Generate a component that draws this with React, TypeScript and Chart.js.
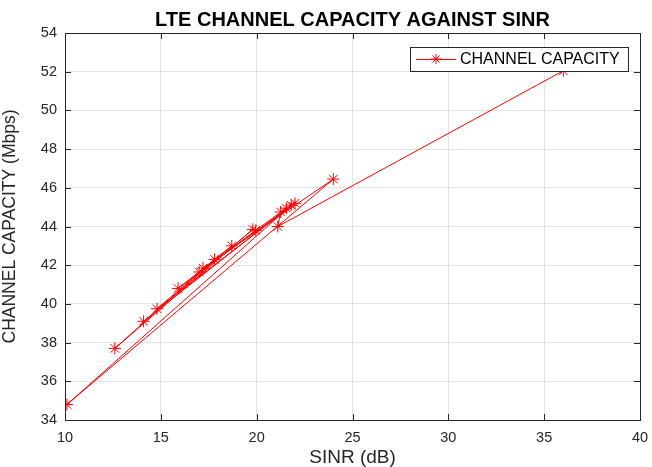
import React, { useEffect, useRef } from "react";
import { Chart, registerables } from "chart.js";

Chart.register(...registerables);

const titleText = "LTE CHANNEL CAPACITY AGAINST SINR";
const xTitle = "SINR (dB)";
const yTitle = "CHANNEL CAPACITY (Mbps)";
const seriesName = "CHANNEL CAPACITY";

// data in plotting order (SINR dB, capacity Mbps)
const sinr = [17.2, 24.0, 10.1, 21.8, 14.1, 19.8, 12.6, 17.8, 14.8, 22.0, 17.0, 18.7, 15.9, 19.95, 21.55, 21.25, 21.1, 36.0];
const capacity = [41.85, 46.45, 34.8, 45.1, 39.1, 43.85, 37.7, 42.3, 39.75, 45.2, 41.65, 43.0, 40.8, 43.8, 44.95, 44.75, 44.0, 52.05];

const xMin = 10, xMax = 40, xStep = 5;
const yMin = 34, yMax = 54, yStep = 2;

const FONT = "'Liberation Sans', Arial, Helvetica, sans-serif";
const TEXT = "#262626";

function drawStar(ctx: CanvasRenderingContext2D, x: number, y: number, r: number) {
  ctx.beginPath();
  ctx.moveTo(x - r, y); ctx.lineTo(x + r, y);
  ctx.moveTo(x, y - r); ctx.lineTo(x, y + r);
  const d = r * 0.7071;
  ctx.moveTo(x - d, y - d); ctx.lineTo(x + d, y + d);
  ctx.moveTo(x - d, y + d); ctx.lineTo(x + d, y - d);
  ctx.stroke();
}

const framePlugin = {
  id: "frame",
  afterDraw(chart: any) {
    const { ctx, chartArea: a, scales } = chart;
    ctx.save();
    ctx.strokeStyle = TEXT;
    ctx.lineWidth = 1;
    ctx.strokeRect(Math.round(a.left) + 0.5, Math.round(a.top) + 0.5, Math.round(a.right - a.left), Math.round(a.bottom - a.top));
    const tl = 6;
    ctx.beginPath();
    for (let v = xMin; v <= xMax; v += xStep) {
      const px = Math.round(scales.x.getPixelForValue(v)) + 0.5;
      ctx.moveTo(px, a.bottom); ctx.lineTo(px, a.bottom - tl);
      ctx.moveTo(px, a.top); ctx.lineTo(px, a.top + tl);
    }
    for (let v = yMin; v <= yMax; v += yStep) {
      const py = Math.round(scales.y.getPixelForValue(v)) + 0.5;
      ctx.moveTo(a.left, py); ctx.lineTo(a.left + tl, py);
      ctx.moveTo(a.right, py); ctx.lineTo(a.right - tl, py);
    }
    ctx.stroke();

    // title
    ctx.fillStyle = "#000";
    ctx.font = `bold 20px ${FONT}`;
    ctx.textAlign = "center";
    ctx.textBaseline = "middle";
    ctx.fillText(titleText, (a.left + a.right) / 2, 20);

    // legend
    const lx = 410, ly = 47, lw = 218, lh = 24;
    ctx.fillStyle = "#fff";
    ctx.fillRect(lx, ly, lw, lh);
    ctx.strokeStyle = TEXT;
    ctx.strokeRect(lx + 0.5, ly + 0.5, lw, lh);
    ctx.strokeStyle = "#ff0000";
    ctx.beginPath();
    ctx.moveTo(lx + 6, ly + lh / 2 + 0.5);
    ctx.lineTo(lx + 46, ly + lh / 2 + 0.5);
    ctx.stroke();
    drawStar(ctx, lx + 26, ly + lh / 2, 5);
    ctx.fillStyle = "#000";
    ctx.font = `16px ${FONT}`;
    ctx.textAlign = "left";
    ctx.fillText(seriesName, lx + 50, ly + lh / 2 + 1);
    ctx.restore();
  },
};

export default function App() {
  const ref = useRef<HTMLCanvasElement>(null);
  useEffect(() => {
    const data = sinr.map((x, i) => ({ x, y: capacity[i] }));
    const chart = new Chart(ref.current!, {
      type: "scatter",
      data: {
        datasets: [
          {
            label: seriesName,
            data,
            showLine: true,
            borderColor: "#ff0000",
            backgroundColor: "#ff0000",
            borderWidth: 1,
            pointStyle: "star",
            pointRadius: 6,
            pointBorderWidth: 1,
            pointBorderColor: "#ff0000",
          },
        ],
      },
      options: {
        animation: false,
        responsive: false,
        devicePixelRatio: 1,
        layout: { padding: { top: 33, right: 12, left: 0, bottom: 0 } },
        plugins: { legend: { display: false }, title: { display: false }, tooltip: { enabled: false } },
        scales: {
          x: {
            type: "linear",
            min: xMin,
            max: xMax,
            afterFit: (s: any) => { s.height = 47; s.paddingRight = 0; s.paddingLeft = 0; },
            ticks: { stepSize: xStep, color: TEXT, font: { size: 14.5, family: FONT }, padding: 9, maxRotation: 0 },
            grid: { color: "#e3e3e3", drawTicks: false },
            border: { display: false },
            title: { display: true, text: xTitle, color: TEXT, font: { size: 19, family: FONT, lineHeight: 1 }, padding: { top: 0, bottom: 0 } },
          },
          y: {
            type: "linear",
            min: yMin,
            max: yMax,
            afterFit: (s: any) => { s.width = 65; s.paddingTop = 0; s.paddingBottom = 0; },
            ticks: { stepSize: yStep, color: TEXT, font: { size: 14.5, family: FONT }, padding: 8 },
            grid: { color: "#e3e3e3", drawTicks: false },
            border: { display: false },
            title: { display: true, text: yTitle, color: TEXT, font: { size: 17.5, family: FONT }, padding: { top: 0, bottom: 2 } },
          },
        },
      },
      plugins: [framePlugin],
    });
    return () => chart.destroy();
  }, []);
  return (
    <div style={{ position: "fixed", left: 0, top: 0, width: 652, height: 467, background: "#fff" }}>
      <canvas ref={ref} width={652} height={467} style={{ display: "block" }} />
    </div>
  );
}
